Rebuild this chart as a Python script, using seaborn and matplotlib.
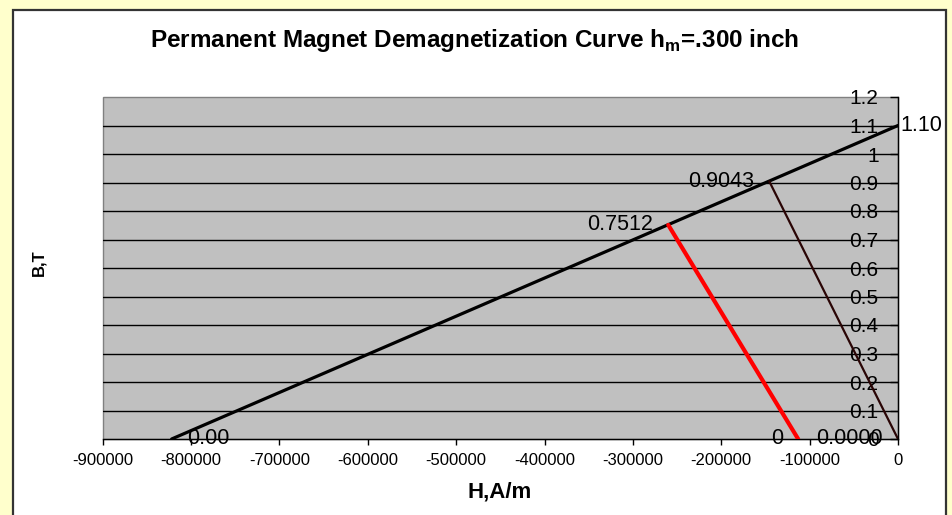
import numpy as np
import matplotlib
matplotlib.use('Agg')
import matplotlib.pyplot as plt
from matplotlib.patches import Rectangle
from matplotlib.ticker import FuncFormatter
import seaborn as sns

# --- Data ---
# Demagnetization line (Hc -> Br)
demag_H = [-822000, 0]
demag_B = [0.00, 1.10]
demag_labels = ["0.00", "1.10"]

# Load line through the operating point
load_H = [-145700, 0]
load_B = [0.9043, 0.0]
load_labels = ["0.9043", "0.0000"]

# Shifted load line (red)
shift_H = [-260000, -113000]
shift_B = [0.7512, 0.0]
shift_labels = ["0.7512", "0"]

x_ticks = [-900000, -800000, -700000, -600000, -500000, -400000,
           -300000, -200000, -100000, 0]
y_ticks = [0, 0.1, 0.2, 0.3, 0.4, 0.5, 0.6, 0.7, 0.8, 0.9, 1.0, 1.1, 1.2]

# --- Style ---
sns.set_style("white")
plt.rcParams['font.family'] = ['Liberation Sans', 'DejaVu Sans']
plt.rcParams['text.color'] = 'black'
plt.rcParams['axes.unicode_minus'] = False
plt.rcParams['mathtext.fontset'] = 'custom'
plt.rcParams['mathtext.rm'] = 'Liberation Sans'
plt.rcParams['mathtext.bf'] = 'Liberation Sans:bold'

fig = plt.figure(figsize=(9.52, 5.15), dpi=100)
fig.patch.set_facecolor('#FFFFCC')

# white chart area with dark frame (behind the axes)
frame = Rectangle((13 / 952, -0.02), (946 - 13) / 952, 1.02 - 10 / 515,
                  transform=fig.transFigure, facecolor='white',
                  edgecolor='#333333', linewidth=1.6, zorder=-5)
fig.patches.append(frame)

ax = fig.add_axes([102.7 / 952, 1 - 439 / 515, (898 - 102.7) / 952, (439 - 97) / 515])
ax.set_zorder(1)
ax.set_facecolor('#C0C0C0')
ax.patch.set_edgecolor('#808080')
ax.patch.set_linewidth(1.0)

# horizontal gridlines
for y in y_ticks[1:-1]:
    ax.axhline(y, color='black', lw=1.0, zorder=1)

sns.lineplot(x=demag_H, y=demag_B, ax=ax, color='black', lw=2.3, zorder=3)
sns.lineplot(x=load_H, y=load_B, ax=ax, color='#2a0505', lw=1.6, zorder=3)
sns.lineplot(x=shift_H, y=shift_B, ax=ax, color='#FF0000', lw=3.0, zorder=3)

# data labels
lab_kw = dict(textcoords='offset points', va='center', fontsize=15.5, color='black',
              zorder=5, annotation_clip=False)
ax.annotate(demag_labels[0], (demag_H[0], demag_B[0]), xytext=(11, 0), ha='left', **lab_kw)
ax.annotate(demag_labels[1], (demag_H[1], demag_B[1]), xytext=(2, 0), ha='left', **lab_kw)
for h, b, t in zip(load_H, load_B, load_labels):
    ax.annotate(t, (h, b), xytext=(-11, 0), ha='right', **lab_kw)
for h, b, t in zip(shift_H, shift_B, shift_labels):
    ax.annotate(t, (h, b), xytext=(-11, 0), ha='right', **lab_kw)

ax.set_xlim(-900000, 0)
ax.set_ylim(0, 1.2)
ax.set_xticks(x_ticks)
ax.set_yticks(y_ticks)
ax.yaxis.set_major_formatter(FuncFormatter(lambda v, p: f"{v:g}"))

# y axis sits at H = 0 (right edge), labels drawn inside the plot
for s in ['top', 'right']:
    ax.spines[s].set_visible(False)
ax.spines['left'].set_position(('data', 0))
ax.spines['left'].set_color('black')
ax.spines['left'].set_linewidth(1.0)
ax.spines['bottom'].set_color('black')
ax.spines['bottom'].set_linewidth(1.0)
ax.spines['left'].set_zorder(4)

ax.tick_params(axis='y', left=True, direction='out', length=6, width=1,
               pad=8, labelsize=15, colors='black')
ax.tick_params(axis='x', bottom=True, direction='out', length=4, width=1,
               pad=6, labelsize=12, colors='black')

ax.set_xlabel('')
ax.set_ylabel('')

fig.text(475 / 952, 1 - 41 / 515,
         r"Permanent Magnet Demagnetization Curve h$_{\mathbf{m}}$=.300 inch",
         ha='center', va='center', fontsize=17.5, fontweight='bold')
fig.text(500 / 952, 1 - 492 / 515, "H,A/m", ha='center', va='center',
         fontsize=16, fontweight='bold')
fig.text(39 / 952, 1 - 263 / 515, "B,T", ha='center', va='center',
         rotation=90, fontsize=12, fontweight='bold')

fig.savefig('out.png', dpi=100, facecolor=fig.get_facecolor())
